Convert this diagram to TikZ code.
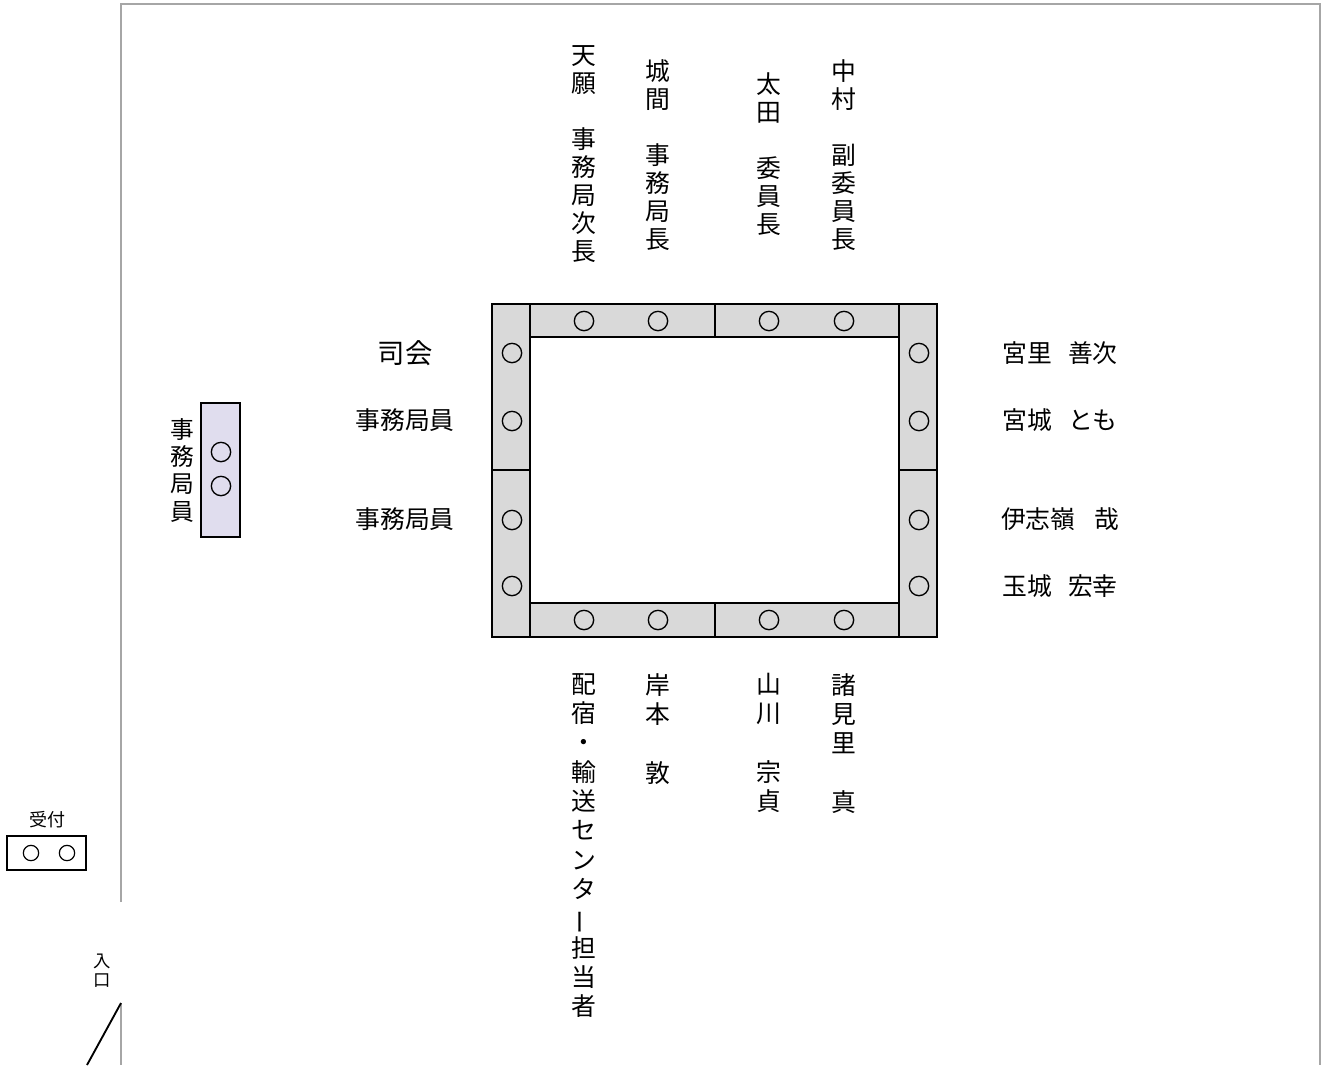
\documentclass[tikz,border=0pt]{standalone}
\usepackage{fontspec}
\usepackage{graphicx}
\setmainfont{Noto Sans CJK JP}
\definecolor{tablegray}{HTML}{D9D9D9}
\definecolor{staffviolet}{HTML}{E0DDEE}
\definecolor{wallgray}{HTML}{A6A6A6}
\begin{document}
\begin{tikzpicture}[x=0.75pt,y=-0.75pt,
  seat/.style={circle,draw=black,line width=1pt,minimum size=14.5pt,inner sep=0pt},
  smallseat/.style={circle,draw=black,line width=0.9pt,minimum size=11.5pt,inner sep=0pt},
  strip/.style={fill=tablegray,draw=black,line width=1pt},
  lbl/.style={font=\fontsize{18.6pt}{21pt}\selectfont,inner sep=0pt},
  biglbl/.style={font=\fontsize{20.5pt}{22pt}\selectfont,inner sep=0pt},
  vlbl/.style={lbl,align=center},
  vlblb/.style={font=\fontsize{18.6pt}{22pt}\selectfont,inner sep=0pt,align=center,anchor=north},
  smalllbl/.style={font=\fontsize{13.5pt}{14.5pt}\selectfont,inner sep=0pt,align=center}]
\useasboundingbox (0,0) rectangle (1324,1065);
% room walls
\draw[wallgray,line width=1.1pt] (121,902) -- (121,4) -- (1320,4) -- (1320,1065);
\draw[wallgray,line width=1.1pt] (121,1003) -- (121,1065);
\draw[black,line width=1.4pt] (121,1003) -- (87,1065);
% conference table
\draw[strip] (492,304) rectangle (530,470);
\draw[strip] (492,470) rectangle (530,637);
\draw[strip] (899,304) rectangle (937,470);
\draw[strip] (899,470) rectangle (937,637);
\draw[strip] (530,304) rectangle (715,337);
\draw[strip] (715,304) rectangle (899,337);
\draw[strip] (530,603) rectangle (715,637);
\draw[strip] (715,603) rectangle (899,637);
% seats top
\node[seat] (t1) at (584,321) {};
\node[seat] (t2) at (658,321) {};
\node[seat] (t3) at (769,321) {};
\node[seat] (t4) at (844,321) {};
% seats bottom
\node[seat] (b1) at (584,620) {};
\node[seat] (b2) at (658,620) {};
\node[seat] (b3) at (769,620) {};
\node[seat] (b4) at (844,620) {};
% seats left
\node[seat] (l1) at (512,353) {};
\node[seat] (l2) at (512,421) {};
\node[seat] (l3) at (512,520) {};
\node[seat] (l4) at (512,586) {};
% seats right
\node[seat] (r1) at (919,353) {};
\node[seat] (r2) at (919,421) {};
\node[seat] (r3) at (919,520) {};
\node[seat] (r4) at (919,586) {};
% staff desk
\draw[fill=staffviolet,draw=black,line width=1pt] (201,403) rectangle (240,537);
\node[seat] (s1) at (221,452) {};
\node[seat] (s2) at (221,486) {};
\node[vlbl,font=\fontsize{17.8pt}{20.5pt}\selectfont] (staff) at (182,470) {事\\務\\局\\員};
% reception
\draw[black,line width=0.9pt] (7,836) rectangle (86,870);
\node[smallseat] (u1) at (31,853) {};
\node[smallseat] (u2) at (67,853) {};
\node[smalllbl] (uketsuke) at (47,820) {受付};
\node[smalllbl,font=\fontsize{13pt}{14pt}\selectfont] (iriguchi) at (102,971) {入\\口};
% top labels
\node[vlbl] (n1) at (584,154) {天\\願\\[21pt]事\\務\\局\\次\\長};
\node[vlbl] (n2) at (658,155) {城\\間\\[21pt]事\\務\\局\\長};
\node[vlbl] (n3) at (769,154) {太\\田\\[21pt]委\\員\\長};
\node[vlbl] (n4) at (844,155) {中\\村\\[21pt]副\\委\\員\\長};
% bottom labels
\node[vlblb] (m1) at (584,673) {配\\宿\\・\\輸\\送\\セ\\ン\\タ\\\rotatebox[origin=c]{90}{ー}\\担\\当\\者};
\node[vlblb] (m2) at (658,673) {岸\\本\\[22pt]敦};
\node[vlblb] (m3) at (769,673) {山\\川\\[22pt]宗\\貞};
\node[vlblb] (m4) at (844,673) {諸\\見\\里\\[22pt]真};
% left labels
\node[biglbl] (shikai) at (405,353) {司会};
\node[lbl] (jim1) at (405,420) {事務局員};
\node[lbl] (jim2) at (405,519) {事務局員};
% right labels
\node[lbl] (p1) at (1060,353) {宮里\hspace{0.65em}善次};
\node[lbl] (p2) at (1060,420) {宮城\hspace{0.65em}とも};
\node[lbl] (p3) at (1060,519) {伊志嶺\hspace{0.75em}哉};
\node[lbl] (p4) at (1060,586) {玉城\hspace{0.65em}宏幸};
\end{tikzpicture}
\end{document}
